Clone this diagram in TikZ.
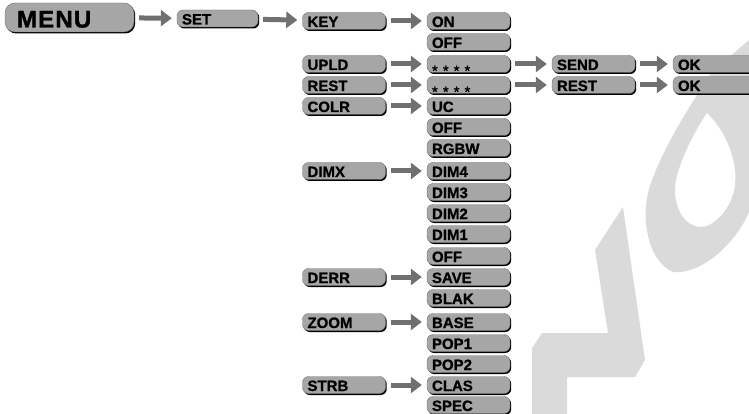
\documentclass[tikz,border=0pt]{standalone}
\usepackage{fontspec}
\setmainfont{Liberation Sans}
\usetikzlibrary{arrows.meta,shadows}

\definecolor{boxgray}{RGB}{166,166,166}
\definecolor{arrowgray}{RGB}{112,112,112}
\definecolor{markgray}{RGB}{218,218,218}
\newcommand{\tx}[2][73pt]{\makebox[#1][l]{#2}}
\newcommand{\stars}{\raisebox{-6pt}{\fontsize{15}{15}\selectfont\mdseries *\hspace{5pt}*\hspace{5pt}*\hspace{5pt}*}}
\tikzstyle{b} = [rectangle, rounded corners=6pt, fill=boxgray, draw=black!55, line width=0.4pt, drop shadow={shadow xshift=1.2pt, shadow yshift=-1.5pt, fill=black, opacity=1}, font=\fontsize{15}{15}\selectfont\bfseries\addfontfeatures{FakeBold=1}, inner xsep=5pt, inner ysep=0pt, minimum height=17pt, text height=12pt, text depth=0pt]

\begin{document}
\begin{tikzpicture}[x=1pt, y=-1pt,
			item/.style={b},
			big/.style={b, rounded corners=10pt, inner xsep=12pt, minimum height=29pt, text height=20pt, text depth=0pt, font=\fontsize{24}{24}\selectfont\bfseries\addfontfeatures{LetterSpace=5,FakeBold=1.5}},
			arr/.style={draw=arrowgray, line width=5pt, -{Triangle[length=11pt,width=16pt]}, shorten <=5pt, shorten >=5pt}]
			\useasboundingbox (0,0) rectangle (749,414);
			% watermark
			\fill[markgray] (532,414) -- (532,348) -- (542,333) -- (608,333) -- (595,250) -- (623,207) -- (645,360) -- (635,377) -- (567,377) -- (567,414) -- cycle;
			\fill[markgray, even odd rule] (673,272) .. controls (648,262) and (638,215) .. (652,180) .. controls (665,145) and (690,105) .. (712,72) -- (749,40) -- (749,212) .. controls (735,245) and (700,275) .. (673,272) -- cycle
			(707,113) .. controls (725,130) and (738,160) .. (735,185) .. controls (732,210) and (712,228) .. (700,227) .. controls (680,225) and (672,200) .. (676,180) .. controls (680,160) and (695,130) .. (707,113) -- cycle;
			
			\node (menu)[big] at (69.5,17.5) {\tx[105pt]{MENU}};
			\node (set)[item] at (217.5,18.5) {\tx[71pt]{SET}};
			
			\node (key)[item] at (344,21) {\tx{KEY}};
			\node (upld)[item] at (344,64) {\tx{UPLD}};
			\node (rest)[item] at (344,85) {\tx{REST}};
			\node (colr)[item] at (344,106) {\tx{COLR}};
			\node (dimx)[item] at (344,171) {\tx{DIMX}};
			\node (derr)[item] at (344,277) {\tx{DERR}};
			\node (zoom)[item] at (344,322) {\tx{ZOOM}};
			\node (strb)[item] at (344,385) {\tx{STRB}};
			
			\node (on)[item] at (468.5,21) {\tx{ON}};
			\node (off1)[item] at (468.5,42) {\tx{OFF}};
			\node (pw1)[item] at (468.5,64) {\tx{\stars}};
			\node (pw2)[item] at (468.5,85) {\tx{\stars}};
			\node (uc)[item] at (468.5,106) {\tx{UC}};
			\node (off2)[item] at (468.5,127) {\tx{OFF}};
			\node (rgbw)[item] at (468.5,148) {\tx{RGBW}};
			\node (dim4)[item] at (468.5,171) {\tx{DIM4}};
			\node (dim3)[item] at (468.5,192) {\tx{DIM3}};
			\node (dim2)[item] at (468.5,213) {\tx{DIM2}};
			\node (dim1)[item] at (468.5,234) {\tx{DIM1}};
			\node (off3)[item] at (468.5,256) {\tx{OFF}};
			\node (save)[item] at (468.5,277) {\tx{SAVE}};
			\node (blak)[item] at (468.5,298) {\tx{BLAK}};
			\node (base)[item] at (468.5,322) {\tx{BASE}};
			\node (pop1)[item] at (468.5,343) {\tx{POP1}};
			\node (pop2)[item] at (468.5,364) {\tx{POP2}};
			\node (clas)[item] at (468.5,385) {\tx{CLAS}};
			\node (spec)[item] at (468.5,405) {\tx{SPEC}};
			
			\node (send)[item] at (593.5,64) {\tx{SEND}};
			\node (rest2)[item] at (593.5,85) {\tx{REST}};
			\node (ok1)[item] at (714.5,64) {\tx{OK}};
			\node (ok2)[item] at (714.5,85) {\tx{OK}};
			
			\draw[arr] (menu) -- (set);
			\draw[arr] (set) -- (key);
			\draw[arr] (key) -- (on);
			\draw[arr] (upld) -- (pw1);
			\draw[arr] (rest) -- (pw2);
			\draw[arr] (colr) -- (uc);
			\draw[arr] (dimx) -- (dim4);
			\draw[arr] (derr) -- (save);
			\draw[arr] (zoom) -- (base);
			\draw[arr] (strb) -- (clas);
			\draw[arr] (pw1) -- (send);
			\draw[arr] (pw2) -- (rest2);
			\draw[arr] (send) -- (ok1);
			\draw[arr] (rest2) -- (ok2);
		\end{tikzpicture}
\end{document}
